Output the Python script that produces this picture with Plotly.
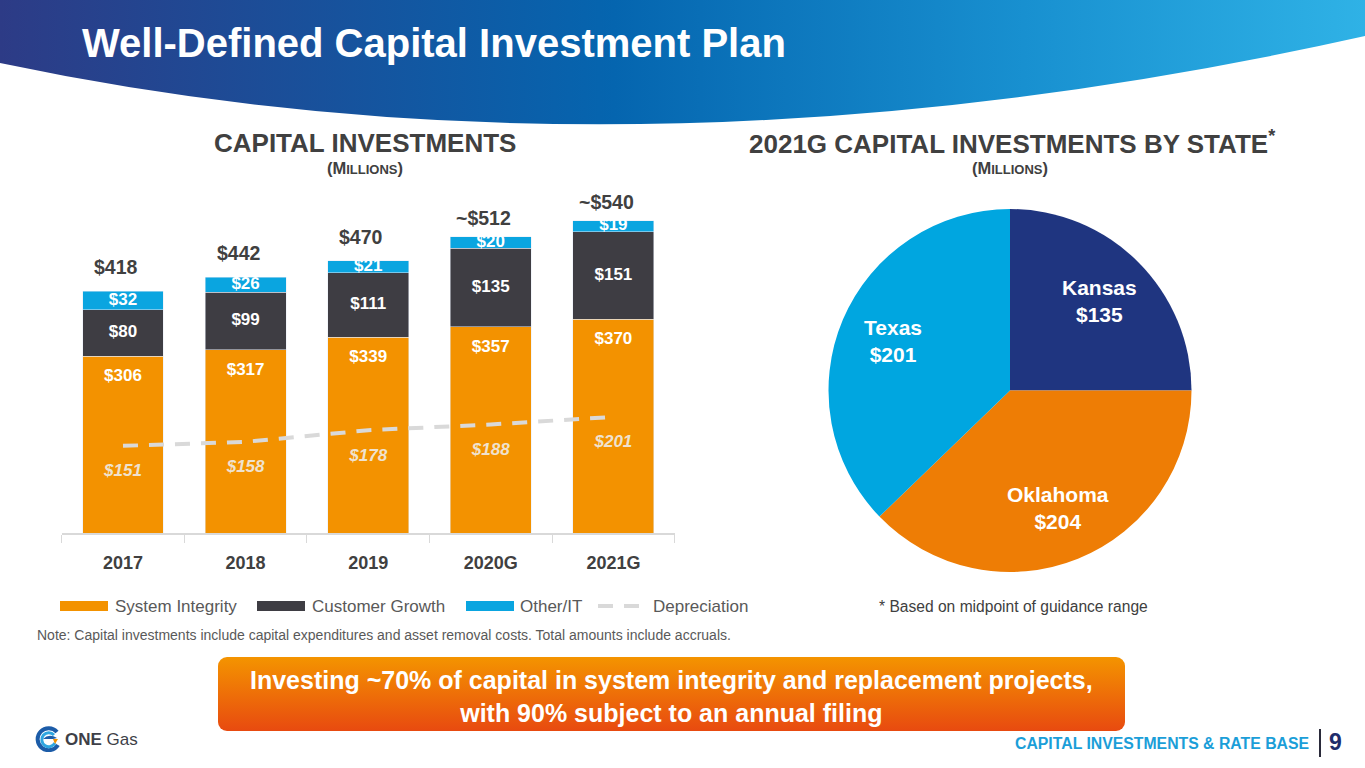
import base64
import math

import plotly.graph_objects as go

# ---- data ----
years = ["2017", "2018", "2019", "2020G", "2021G"]
system_integrity = [306, 317, 339, 357, 370]
customer_growth = [80, 99, 111, 135, 151]
other_it = [32, 26, 21, 20, 19]
depreciation = [151, 158, 178, 188, 201]
totals = [418, 442, 470, 512, 540]
total_labels = ["$418", "$442", "$470", "~$512", "~$540"]

states = ["Kansas", "Oklahoma", "Texas"]
state_values = [135, 204, 201]

# ---- style ----
W, H = 1365, 768
ORANGE = "#f39200"
DARK = "#3e3d43"
BLUE = "#0aa5e0"
DEP_GREY = "#d9d9d9"
TEXT_GREY = "#404040"
STATE_COLORS = ["#1f3580", "#ee7d05", "#00a6e0"]

FONT = "Liberation Sans, Arial, sans-serif"


def px(x):
    return x / W


def py(y):
    return 1 - y / H


def svg_uri(svg):
    return "data:image/svg+xml;base64," + base64.b64encode(svg.encode()).decode()


fig = go.Figure()

# stacked bars
fig.add_trace(go.Bar(x=years, y=system_integrity, name="System Integrity", marker_color=ORANGE))
fig.add_trace(go.Bar(x=years, y=customer_growth, name="Customer Growth", marker_color=DARK))
fig.add_trace(go.Bar(x=years, y=other_it, name="Other/IT", marker_color=BLUE))
fig.add_trace(go.Scatter(x=years, y=depreciation, name="Depreciation", mode="lines",
                         line=dict(color=DEP_GREY, width=4, dash="15px,11px")))

# segment labels
bar_font = dict(family=FONT, size=17, color="white", weight="bold")
fig.add_trace(go.Scatter(x=years, y=[v - 36 for v in system_integrity], mode="text",
                         text=[f"${v}" for v in system_integrity], textfont=bar_font))
fig.add_trace(go.Scatter(x=years, y=[s + c / 2 for s, c in zip(system_integrity, customer_growth)],
                         mode="text", text=[f"${v}" for v in customer_growth], textfont=bar_font))
fig.add_trace(go.Scatter(x=years,
                         y=[s + c + o / 2 for s, c, o in zip(system_integrity, customer_growth, other_it)],
                         mode="text", text=[f"${v}" for v in other_it], textfont=bar_font))
fig.add_trace(go.Scatter(x=years, y=[d - 45 for d in depreciation], mode="text",
                         text=[f"${v}" for v in depreciation],
                         textfont=dict(family=FONT, size=17, color="#efe2cf", weight="bold",
                                       style="italic")))

annotations = []
for i, (yr, tot, lab) in enumerate(zip(years, totals, total_labels)):
    # category axis: annotation x is the category index
    annotations.append(dict(x=i, y=tot, xref="x", yref="y", text=lab, showarrow=False,
                            xanchor="center", yanchor="bottom", xshift=-7,
                            yshift=6 if yr.endswith("G") else 11,
                            font=dict(family=FONT, size=19.5, color=TEXT_GREY, weight="bold")))

# pie
pie_x0, pie_x1, pie_y0, pie_y1 = 828.5, 1191.5, 209, 572
fig.add_trace(go.Pie(labels=states, values=state_values, sort=False, direction="clockwise",
                     rotation=0, textinfo="none", hoverinfo="label+value",
                     marker=dict(colors=STATE_COLORS, line=dict(width=0)),
                     domain=dict(x=[px(pie_x0), px(pie_x1)], y=[py(pie_y1), py(pie_y0)])))

cx, cy = (pie_x0 + pie_x1) / 2, (pie_y0 + pie_y1) / 2
r = (pie_x1 - pie_x0) / 2 * 0.7
total_state = sum(state_values)
cum = 0
for name, v in zip(states, state_values):
    theta = (cum + v / 2) / total_state * 2 * math.pi
    cum += v
    annotations.append(dict(x=px(cx + r * math.sin(theta)), y=py(cy - r * math.cos(theta)),
                            text=f"{name}<br>${v}",
                            font=dict(family=FONT, size=21, color="white", weight="bold")))

# titles and notes
annotations += [
    dict(x=px(80), y=py(43), xanchor="left", text="Well-Defined Capital Investment Plan",
         font=dict(family=FONT, size=40, color="white", weight="bold")),
    dict(x=px(365), y=py(143), text="CAPITAL INVESTMENTS",
         font=dict(family=FONT, size=26, color=TEXT_GREY, weight="bold")),
    dict(x=px(365), y=py(168), text="(M<span style='font-size:13px'>ILLIONS</span>)",
         font=dict(family=FONT, size=16.5, color=TEXT_GREY, weight="bold")),
    dict(x=px(1012), y=py(143), text="2021G CAPITAL INVESTMENTS BY STATE<sup>*</sup>",
         font=dict(family=FONT, size=26, color=TEXT_GREY, weight="bold")),
    dict(x=px(1010), y=py(168), text="(M<span style='font-size:13px'>ILLIONS</span>)",
         font=dict(family=FONT, size=16.5, color=TEXT_GREY, weight="bold")),
    dict(x=px(877), y=py(606), xanchor="left", text="* Based on midpoint of guidance range",
         font=dict(family=FONT, size=15.6, color=TEXT_GREY)),
    dict(x=px(35), y=py(635), xanchor="left",
         text="Note: Capital investments include capital expenditures and asset removal costs. "
              "Total amounts include accruals.",
         font=dict(family=FONT, size=14, color="#595959")),
    dict(x=px(671), y=py(696),
         text="Investing ~70% of capital in system integrity and replacement projects,<br>"
              "with 90% subject to an annual filing",
         font=dict(family=FONT, size=25, color="white", weight="bold")),
    dict(x=px(1311), y=py(743), xanchor="right", text="CAPITAL INVESTMENTS & RATE BASE",
         font=dict(family=FONT, size=15.8, color="#1b9ed8", weight="bold")),
    dict(x=px(1327), y=py(742), xanchor="left", text="9",
         font=dict(family=FONT, size=23, color="#1f2d6b", weight="bold")),
    dict(x=px(63), y=py(739), xanchor="left", text="<b>ONE</b> Gas",
         font=dict(family=FONT, size=17, color="#3e3f48")),
]

# custom legend
shapes = []
legend_items = [("System Integrity", ORANGE, 60, 113), ("Customer Growth", DARK, 257, 310),
                ("Other/IT", BLUE, 466, 518)]
for label, color, x0, tx in legend_items:
    shapes.append(dict(type="rect", xref="paper", yref="paper", x0=px(x0), x1=px(x0 + 48),
                       y0=py(611), y1=py(601), fillcolor=color, line=dict(width=0)))
    annotations.append(dict(x=px(tx), y=py(606), xanchor="left", text=label,
                            font=dict(family=FONT, size=17, color="#595959")))
for x0 in (598, 624):
    shapes.append(dict(type="line", xref="paper", yref="paper", x0=px(x0), x1=px(x0 + 15),
                       y0=py(606), y1=py(606), line=dict(color=DEP_GREY, width=4)))
annotations.append(dict(x=px(651), y=py(606), xanchor="left", text="Depreciation",
                        font=dict(family=FONT, size=17, color="#595959")))
# page number divider
shapes.append(dict(type="line", xref="paper", yref="paper", x0=px(1320), x1=px(1320),
                   y0=py(757), y1=py(729), line=dict(color="#2a2a3a", width=2)))

for a in annotations:
    a.setdefault("xref", "paper")
    a.setdefault("yref", "paper")
    a.setdefault("showarrow", False)
    a.setdefault("xanchor", "center")
    a.setdefault("yanchor", "middle")

# decorative images: header swoosh, banner, logo
header_svg = (
    "<svg xmlns='http://www.w3.org/2000/svg' width='1365' height='130' viewBox='0 0 1365 130' "
    "preserveAspectRatio='none'><defs><linearGradient id='g' x1='0' y1='0' x2='1' y2='0'>"
    "<stop offset='0' stop-color='#2d3b86'/><stop offset='0.45' stop-color='#0565af'/>"
    "<stop offset='0.75' stop-color='#1890d0'/><stop offset='1' stop-color='#2fb2e6'/>"
    "</linearGradient></defs>"
    "<path d='M0,0 H1365 V36 Q640,198 0,63 Z' fill='url(#g)'/></svg>"
)
banner_svg = (
    "<svg xmlns='http://www.w3.org/2000/svg' width='907' height='74' viewBox='0 0 907 74' "
    "preserveAspectRatio='none'><defs><linearGradient id='b' x1='0' y1='0' x2='0' y2='1'>"
    "<stop offset='0' stop-color='#f49400'/><stop offset='1' stop-color='#e84a10'/>"
    "</linearGradient></defs><rect x='0' y='0' width='907' height='74' rx='9' fill='url(#b)'/></svg>"
)
logo_svg = (
    "<svg xmlns='http://www.w3.org/2000/svg' width='26' height='26' viewBox='0 0 26 26'>"
    "<path d='M22,6 A11,11 0 1,0 23,19' fill='none' stroke='#1c5ca8' stroke-width='4'/>"
    "<path d='M19,9 A7,7 0 1,0 20,17' fill='none' stroke='#2fa6e0' stroke-width='3'/>"
    "<path d='M8,13 Q14,7 22,12 L18,13 Z' fill='#1c5ca8'/>"
    "<path d='M18,13 L23,13 L20,18 Z' fill='#f39200'/></svg>"
)
images = [
    dict(source=svg_uri(header_svg), xref="paper", yref="paper", x=0, y=1, sizex=1, sizey=130 / H,
         xanchor="left", yanchor="top", sizing="stretch", layer="below"),
    dict(source=svg_uri(banner_svg), xref="paper", yref="paper", x=px(218), y=py(657),
         sizex=907 / W, sizey=74 / H, xanchor="left", yanchor="top", sizing="stretch", layer="below"),
    dict(source=svg_uri(logo_svg), xref="paper", yref="paper", x=px(35), y=py(726),
         sizex=26 / W, sizey=26 / H, xanchor="left", yanchor="top", sizing="stretch", layer="below"),
]

fig.update_layout(
    width=W, height=H, margin=dict(l=0, r=0, t=0, b=0),
    paper_bgcolor="white", plot_bgcolor="white",
    barmode="stack", bargap=0.34, showlegend=False,
    annotations=annotations, shapes=shapes, images=images,
    xaxis=dict(type="category", categoryorder="array", categoryarray=years, range=[-0.5, 4.5],
               domain=[px(61.7), px(674.7)], showline=True, linecolor=DEP_GREY,
               linewidth=1.5, ticks="outside", tickson="boundaries", ticklen=8, tickcolor=DEP_GREY,
               ticklabelstandoff=12,
               tickfont=dict(family=FONT, size=18, color=TEXT_GREY, weight="bold"),
               showgrid=False, fixedrange=True),
    yaxis=dict(domain=[py(533.3), py(185.9)], range=[0, 600], visible=False, fixedrange=True),
)

fig.write_html("out.html", config={"displayModeBar": False},
               post_script="document.body.style.margin='0';")
